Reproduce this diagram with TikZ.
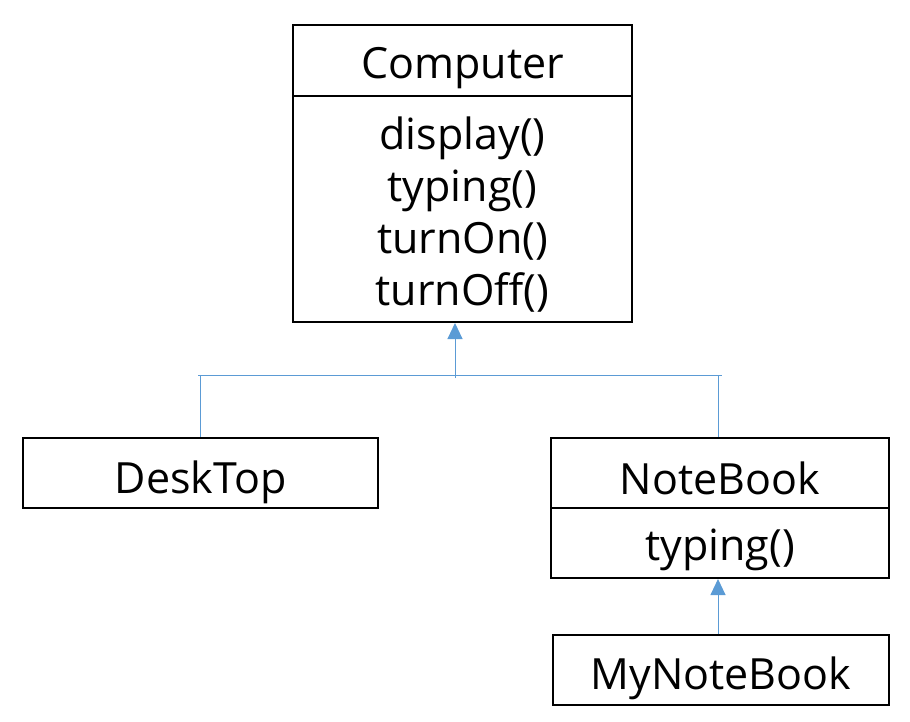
\documentclass[tikz,border=0pt]{standalone}
\usepackage{fontspec}
\setmainfont{Open Sans}
\usetikzlibrary{arrows.meta}
\definecolor{connblue}{RGB}{91,155,213}
\begin{document}
\begin{tikzpicture}[x=1pt,y=-1pt,
  box/.style={draw, line width=2pt, inner sep=0pt, anchor=center},
  lbl/.style={font=\fontsize{43}{52}\selectfont, align=center, inner sep=0pt, anchor=center},
  conn/.style={draw=connblue, line width=1pt},
  inh/.style={conn, -{Triangle[width=15pt,length=16pt]}}]
\useasboundingbox (0,0) rectangle (910,722);
% Computer
\node[box, minimum width=339pt, minimum height=71pt] (compH) at (462.5,60.5) {};
\node[lbl] (compT) at (462.5,68) {Computer};
\node[box, minimum width=339pt, minimum height=226pt] (compB) at (462.5,209) {};
\node[lbl] (compM) at (462.5,215) {display()\\typing()\\turnOn()\\turnOff()};
% DeskTop
\node[box, minimum width=355pt, minimum height=70pt] (desk) at (200.5,473) {};
\node[lbl] (deskT) at (200.5,482) {DeskTop};
% NoteBook
\node[box, minimum width=338pt, minimum height=70pt] (nbH) at (720,473) {};
\node[lbl] (nbT) at (720,478) {NoteBook};
\node[box, minimum width=338pt, minimum height=70pt] (nbB) at (720,543) {};
\node[lbl] (nbM) at (720,550) {typing()};
% MyNoteBook
\node[box, minimum width=336pt, minimum height=70pt] (my) at (721,670) {};
\node[lbl] (myT) at (721,678) {MyNoteBook};
% connectors
\coordinate (j) at (455,378);
\coordinate (jl) at (198,375);
\coordinate (jr) at (722,375);
\draw[conn] (jl) -- (jr);
\draw[inh] (j) -- (j |- compB.south);
\draw[conn] (desk.north) -- (desk.north |- jl);
\draw[conn] ([xshift=-2pt]nbH.north) -- ([xshift=-2pt]nbH.north |- jr);
\draw[inh] ([xshift=-3pt]my.north) -- ([xshift=-3pt]my.north |- nbB.south);
\end{tikzpicture}
\end{document}
